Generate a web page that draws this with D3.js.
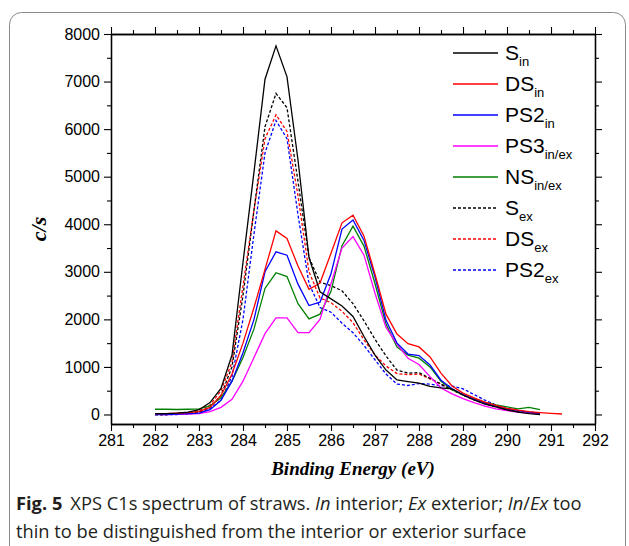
<!DOCTYPE html>
<html>
<head>
<meta charset="utf-8">
<script src="https://cdn.jsdelivr.net/npm/d3@7"></script>
<style>
  body { margin: 0; background: #fff; }
  svg { display: block; }
</style>
</head>
<body>
<div id="chart"></div>
<script>
// binding energy grid (eV)
const energy = [282, 282.25, 282.5, 282.75, 283, 283.25, 283.5, 283.75, 284, 284.25,
  284.5, 284.75, 285, 285.25, 285.5, 285.75, 286, 286.25, 286.5, 286.75,
  287, 287.25, 287.5, 287.75, 288, 288.25, 288.5, 288.75, 289, 289.25,
  289.5, 289.75, 290, 290.25, 290.5, 290.75, 291, 291.25];

// counts per second
const sIn = [20, 20, 30, 50, 100, 250, 550, 1250, 3200, 5100,
  7050, 7750, 7100, 5350, 3300, 2580, 2430, 2280, 2060, 1640,
  1250, 935, 725, 690, 660, 590, 560, 540, 410, 305,
  220, 160, 95, 50, 20, 0, null, null];
const dsIn = [20, 20, 30, 40, 60, 150, 400, 850, 1500, 2250,
  3050, 3860, 3700, 3120, 2630, 2765, 3390, 4030, 4190, 3750,
  2950, 2110, 1690, 1490, 1420, 1210, 870, 600, 450, 350,
  260, 190, 130, 90, 60, 40, 25, 10];
const ps2In = [0, 0, 10, 20, 30, 100, 300, 700, 1300, 2000,
  3000, 3420, 3350, 2740, 2290, 2360, 2960, 3900, 4090, 3660,
  2890, 1980, 1500, 1270, 1240, 1040, 720, 540, 420, 320,
  240, 180, 120, 80, 50, 30, null, null];
const ps3InEx = [10, 0, 5, 10, 20, 60, 150, 320, 700, 1200,
  1700, 2030, 2030, 1720, 1720, 2000, 2750, 3500, 3740, 3350,
  2550, 1830, 1480, 1180, 1050, 795, 560, 435, 335, 250,
  175, 120, 80, 50, 30, 15, null, null];
const nsInEx = [110, 110, 105, 110, 120, 180, 350, 700, 1200, 1800,
  2650, 2980, 2900, 2330, 2010, 2110, 2590, 3550, 3960, 3540,
  2750, 1900, 1420, 1250, 1185, 1000, 700, 520, 410, 330,
  255, 200, 160, 120, 150, 100, null, null];
const sEx = [0, 0, 10, 20, 60, 150, 400, 1000, 2500, 4300,
  6050, 6750, 6450, 4900, 3300, 2780, 2710, 2600, 2330, 1970,
  1580, 1230, 930, 870, 880, 760, 640, 520, 410, 310,
  230, 160, 100, 60, 40, 20, null, null];
const dsEx = [0, 0, 10, 30, 80, 200, 500, 1100, 2700, 4300,
  5800, 6300, 5950, 4600, 3000, 2450, 2350, 2170, 1930, 1570,
  1250, 1020, 860, 840, 850, 750, 640, 520, 410, 310,
  230, 160, 100, 60, 40, 20, null, null];
const ps2Ex = [0, 0, 0, 10, 40, 120, 300, 800, 2000, 3800,
  5500, 6180, 5800, 4200, 2750, 2250, 2150, 1920, 1720, 1450,
  1150, 850, 640, 610, 650, 640, 600, 600, 540, 420,
  300, 200, 130, 80, 50, 30, null, null];

const xTicks = [281, 282, 283, 284, 285, 286, 287, 288, 289, 290, 291, 292];
const yTicks = [0, 1000, 2000, 3000, 4000, 5000, 6000, 7000, 8000];

const series = [
  { name: "S", sub: "in", values: sIn, color: "#000000", dash: null },
  { name: "DS", sub: "in", values: dsIn, color: "#ff0000", dash: null },
  { name: "PS2", sub: "in", values: ps2In, color: "#0000ff", dash: null },
  { name: "PS3", sub: "in/ex", values: ps3InEx, color: "#ff00ff", dash: null },
  { name: "NS", sub: "in/ex", values: nsInEx, color: "#008000", dash: null },
  { name: "S", sub: "ex", values: sEx, color: "#000000", dash: "3,2" },
  { name: "DS", sub: "ex", values: dsEx, color: "#ff0000", dash: "3,2" },
  { name: "PS2", sub: "ex", values: ps2Ex, color: "#0000ff", dash: "3,2" }
];

const width = 629;
const height = 546;
const plot = { left: 111, right: 595, top: 34, bottom: 424 };
const tickFont = "'Liberation Sans', Arial, sans-serif";
const serif = "'Liberation Serif', 'Times New Roman', serif";

const svg = d3
  .select("#chart")
  .append("svg")
  .attr("width", width)
  .attr("height", height);

// rounded figure frame
svg
  .append("rect")
  .attr("x", 9.5)
  .attr("y", 12.5)
  .attr("width", 616)
  .attr("height", 560)
  .attr("rx", 12)
  .attr("fill", "none")
  .attr("stroke", "#8a8a8a")
  .attr("stroke-width", 1);

const x = d3.scaleLinear().domain([281, 292]).range([plot.left, plot.right]);
const y = d3.scaleLinear().domain([-200, 8000]).range([plot.bottom, plot.top]);

const xMinor = xTicks.slice(0, -1).map((d) => d + 0.5);
const yMinor = yTicks.slice(0, -1).map((d) => d + 500);

function styleAxis(g) {
  g.select(".domain").attr("stroke", "#000").attr("stroke-width", 1.3);
  g.selectAll(".tick line").attr("stroke", "#000").attr("stroke-width", 1.1);
  g.selectAll(".tick text")
    .attr("font-family", tickFont)
    .attr("font-size", 16)
    .attr("fill", "#000");
}

// bottom
svg.append("g")
  .attr("transform", `translate(0,${plot.bottom})`)
  .call(d3.axisBottom(x).tickValues(xTicks).tickSize(7).tickSizeOuter(0)
    .tickPadding(4).tickFormat(d3.format("d")))
  .call(styleAxis);
svg.append("g")
  .attr("transform", `translate(0,${plot.bottom})`)
  .call(d3.axisBottom(x).tickValues(xMinor).tickSize(4).tickSizeOuter(0).tickFormat(""))
  .call(styleAxis);

// top
svg.append("g")
  .attr("transform", `translate(0,${plot.top})`)
  .call(d3.axisTop(x).tickValues(xTicks).tickSize(7).tickSizeOuter(0).tickFormat(""))
  .call(styleAxis);
svg.append("g")
  .attr("transform", `translate(0,${plot.top})`)
  .call(d3.axisTop(x).tickValues(xMinor).tickSize(4).tickSizeOuter(0).tickFormat(""))
  .call(styleAxis);

// left
svg.append("g")
  .attr("transform", `translate(${plot.left},0)`)
  .call(d3.axisLeft(y).tickValues(yTicks).tickSize(7).tickSizeOuter(0)
    .tickPadding(4).tickFormat(d3.format("d")))
  .call(styleAxis);
svg.append("g")
  .attr("transform", `translate(${plot.left},0)`)
  .call(d3.axisLeft(y).tickValues(yMinor).tickSize(4).tickSizeOuter(0).tickFormat(""))
  .call(styleAxis);

// right
svg.append("g")
  .attr("transform", `translate(${plot.right},0)`)
  .call(d3.axisRight(y).tickValues(yTicks).tickSize(7).tickSizeOuter(0).tickFormat(""))
  .call(styleAxis);
svg.append("g")
  .attr("transform", `translate(${plot.right},0)`)
  .call(d3.axisRight(y).tickValues(yMinor).tickSize(4).tickSizeOuter(0).tickFormat(""))
  .call(styleAxis);

// axis titles
svg.append("text")
  .attr("x", (plot.left + plot.right) / 2)
  .attr("y", 475)
  .attr("text-anchor", "middle")
  .attr("font-family", serif)
  .attr("font-size", 19)
  .attr("font-weight", "bold")
  .attr("font-style", "italic")
  .text("Binding Energy (eV)");

svg.append("text")
  .attr("transform", `translate(46,${(plot.top + plot.bottom) / 2}) rotate(-90)`)
  .attr("text-anchor", "middle")
  .attr("font-family", serif)
  .attr("font-size", 22)
  .attr("font-weight", "bold")
  .attr("font-style", "italic")
  .text("c/s");

// spectra
const line = d3
  .line()
  .defined((d) => d[1] != null)
  .x((d) => x(d[0]))
  .y((d) => y(d[1]));

const curves = svg.append("g");
series.slice().reverse().forEach((s) => {
  curves
    .append("path")
    .datum(energy.map((e, i) => [e, s.values[i]]))
    .attr("d", line)
    .attr("fill", "none")
    .attr("stroke", s.color)
    .attr("stroke-width", 1.3)
    .attr("stroke-dasharray", s.dash);
});

// legend
const legend = svg.append("g");
series.forEach((s, i) => {
  const ly = 53 + i * 31;
  legend.append("line")
    .attr("x1", 453)
    .attr("x2", 498)
    .attr("y1", ly)
    .attr("y2", ly)
    .attr("stroke", s.color)
    .attr("stroke-width", 1.3)
    .attr("stroke-dasharray", s.dash);
  const t = legend.append("text")
    .attr("x", 505)
    .attr("y", ly + 7)
    .attr("font-family", tickFont)
    .attr("font-size", 21);
  t.append("tspan").text(s.name);
  t.append("tspan").attr("dy", 6).attr("font-size", 13).text(s.sub);
});

// caption
const capFont = "'Open Sans', 'Noto Sans', sans-serif";
const cap1 = svg.append("text")
  .attr("x", 16)
  .attr("y", 510)
  .attr("font-family", capFont)
  .attr("font-size", 18.3)
  .attr("fill", "#231f20");
cap1.append("tspan").attr("font-weight", "bold").text("Fig. 5");
cap1.append("tspan").attr("dx", 8).text("XPS C1s spectrum of straws. ");
cap1.append("tspan").attr("font-style", "italic").text("In");
cap1.append("tspan").text(" interior; ");
cap1.append("tspan").attr("font-style", "italic").text("Ex");
cap1.append("tspan").text(" exterior; ");
cap1.append("tspan").attr("font-style", "italic").text("In");
cap1.append("tspan").text("/");
cap1.append("tspan").attr("font-style", "italic").text("Ex");
cap1.append("tspan").text(" too");

svg.append("text")
  .attr("x", 16)
  .attr("y", 538)
  .attr("font-family", capFont)
  .attr("font-size", 18.3)
  .attr("fill", "#231f20")
  .text("thin to be distinguished from the interior or exterior surface");
</script>
</body>
</html>
